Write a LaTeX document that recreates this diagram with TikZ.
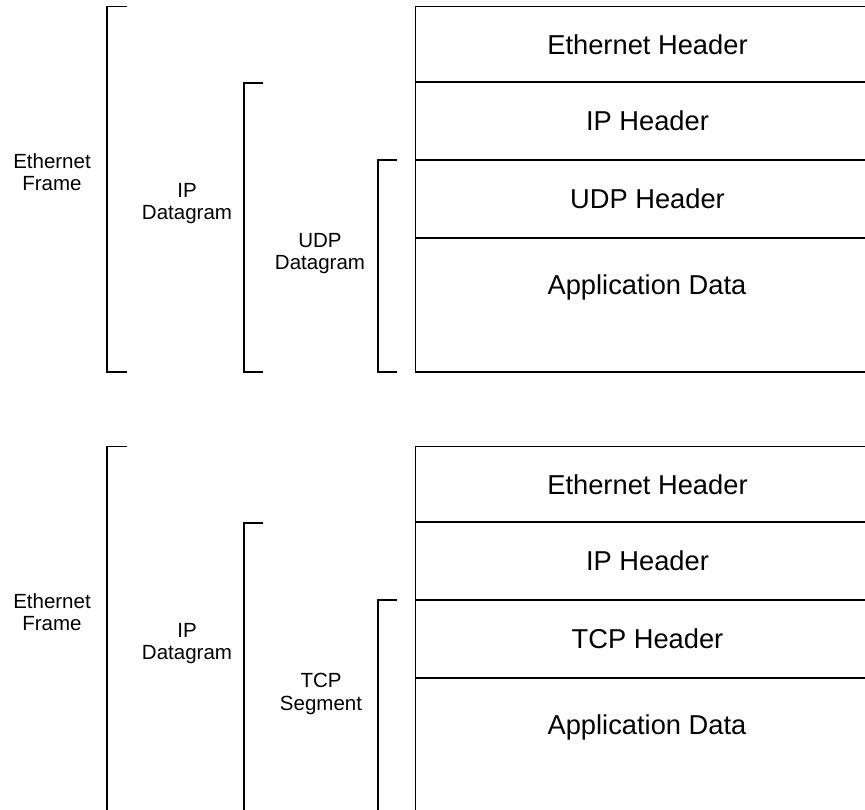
\documentclass[tikz,border=0pt]{standalone}
\usepackage{fontspec}
\setmainfont{Liberation Sans}
\begin{document}
\begin{tikzpicture}[x=1pt,y=-1pt,
  line width=1.1pt,
  rowbox/.style={draw=black, rectangle, minimum width=464pt, inner sep=0pt,
    font=\fontsize{27.3}{30}\selectfont},
  brlabel/.style={align=center, inner sep=0pt, font=\fontsize{20.5}{22.3}\selectfont},
  bracketline/.style={draw=black, line width=1.1pt},
  datatext/.style={inner sep=0pt, font=\fontsize{27.3}{30}\selectfont}]
\useasboundingbox (0,0) rectangle (865,809);
\clip (0,0) rectangle (865,809);
% ---------- top: UDP ----------
\node[rowbox, minimum height=75.5pt] (eth1) at (647.5,44.5) {Ethernet Header};
\node[rowbox, minimum height=78pt] (ip1) at (647.5,121) {IP Header};
\node[rowbox, minimum height=78pt] (udp1) at (647.5,199) {UDP Header};
\node[rowbox, minimum height=134pt] (app1) at (647.5,305) {};
\node[datatext] (apptext1) at (647,287) {Application Data};
% brackets
\coordinate (b1a) at (127,6.5); \coordinate (b1b) at (107,6.5);
\coordinate (b1c) at (107,372); \coordinate (b1d) at (127,372);
\draw[bracketline] (b1a) -- (b1b) -- (b1c) -- (b1d);
\coordinate (b2a) at (263,83); \coordinate (b2b) at (244,83);
\coordinate (b2c) at (244,372); \coordinate (b2d) at (263,372);
\draw[bracketline] (b2a) -- (b2b) -- (b2c) -- (b2d);
\coordinate (b3a) at (397,160); \coordinate (b3b) at (378,160);
\coordinate (b3c) at (378,372); \coordinate (b3d) at (397,372);
\draw[bracketline] (b3a) -- (b3b) -- (b3c) -- (b3d);
\node[brlabel] (ef1) at (52,172) {Ethernet\\Frame};
\node[brlabel] (ipd1) at (187,203.5) {IP\\Datagram};
\node[brlabel] (udpd1) at (320,253.5) {UDP\\Datagram};
% ---------- bottom: TCP ----------
\node[rowbox, minimum height=75.5pt] (eth2) at (647.5,484.5) {Ethernet Header};
\node[rowbox, minimum height=78pt] (ip2) at (647.5,561) {IP Header};
\node[rowbox, minimum height=78pt] (tcp2) at (647.5,639) {TCP Header};
\node[rowbox, minimum height=134pt] (app2) at (647.5,745) {};
\node[datatext] (apptext2) at (647,727) {Application Data};
\coordinate (c1a) at (127,446.5); \coordinate (c1b) at (107,446.5);
\coordinate (c1c) at (107,812); \coordinate (c1d) at (127,812);
\draw[bracketline] (c1a) -- (c1b) -- (c1c) -- (c1d);
\coordinate (c2a) at (263,523); \coordinate (c2b) at (244,523);
\coordinate (c2c) at (244,812); \coordinate (c2d) at (263,812);
\draw[bracketline] (c2a) -- (c2b) -- (c2c) -- (c2d);
\coordinate (c3a) at (397,600); \coordinate (c3b) at (378,600);
\coordinate (c3c) at (378,812); \coordinate (c3d) at (397,812);
\draw[bracketline] (c3a) -- (c3b) -- (c3c) -- (c3d);
\node[brlabel] (ef2) at (52,612) {Ethernet\\Frame};
\node[brlabel] (ipd2) at (187,643.5) {IP\\Datagram};
\node[brlabel] (tcps2) at (321,694) {TCP\\Segment};
\end{tikzpicture}
\end{document}
